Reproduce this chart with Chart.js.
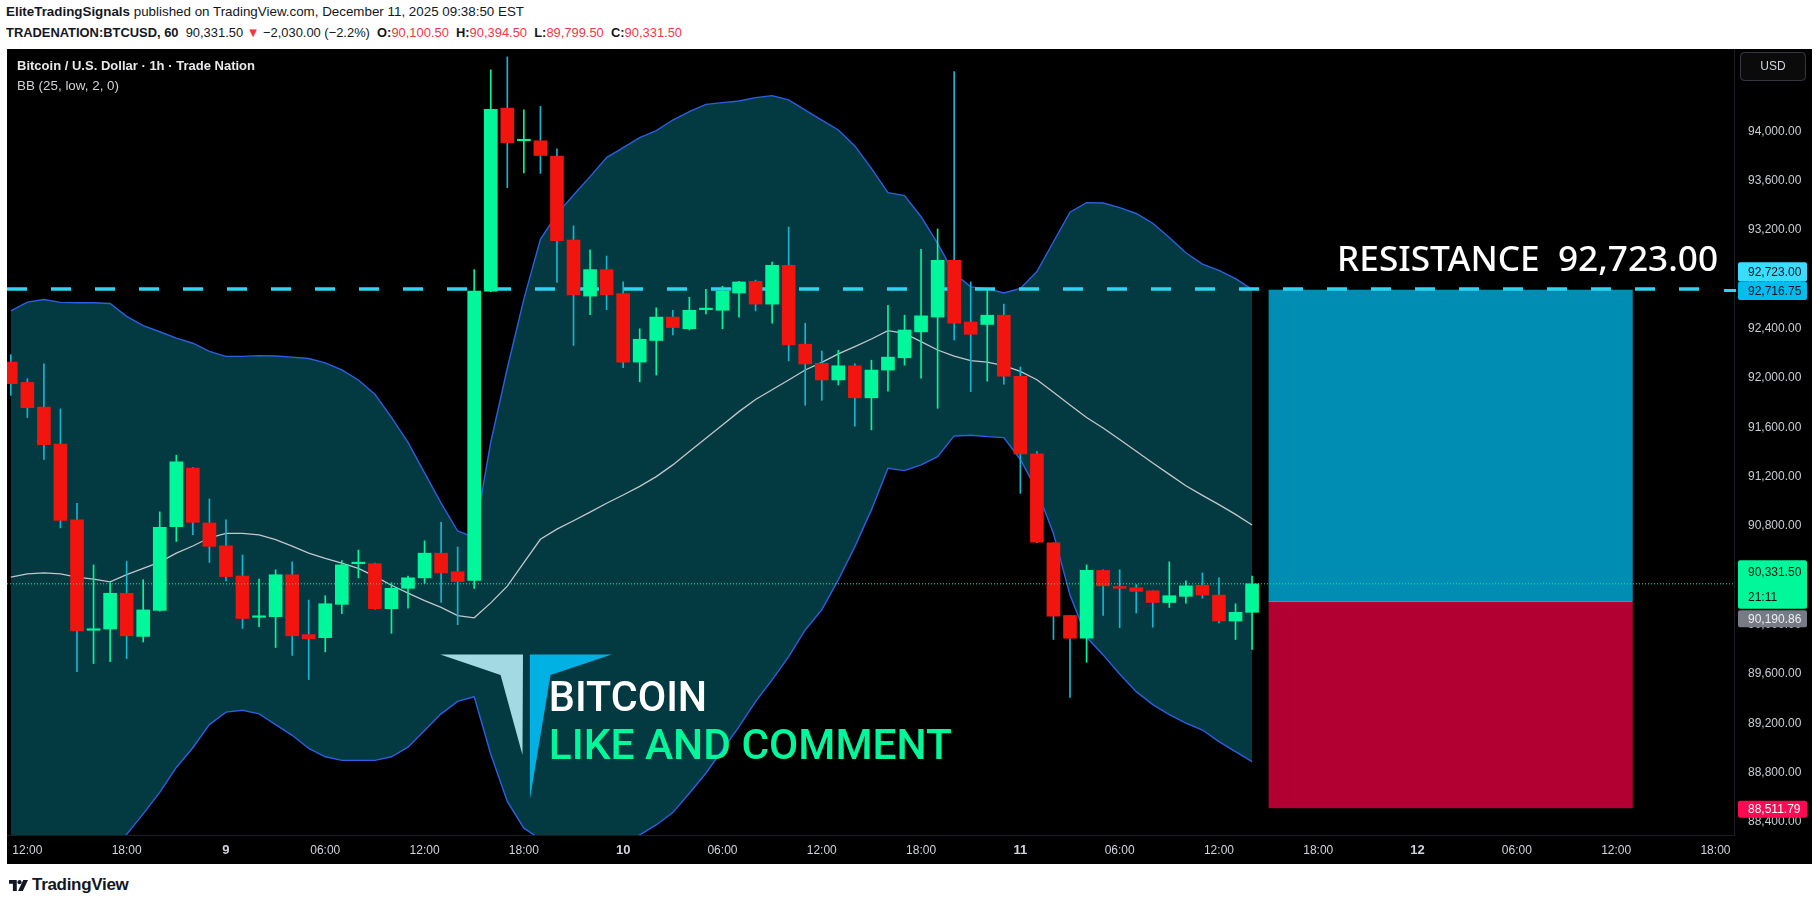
<!DOCTYPE html>
<html>
<head>
<meta charset="utf-8">
<script src="https://cdn.jsdelivr.net/npm/chart.js@4.4.1/dist/chart.umd.min.js"></script>
<style>
html,body{margin:0;padding:0;background:#fff;width:1819px;height:907px;overflow:hidden;font-family:'Liberation Sans',Arial,sans-serif;}
.hdr{position:absolute;left:6px;font-size:13px;color:#131722;white-space:nowrap;transform-origin:0 50%;line-height:16px;}
#h1{top:4px;}
#h2{top:25px;}
.r{color:#f23645;}
#panel{position:absolute;left:7px;top:49px;width:1805px;height:815px;background:#000;overflow:hidden;}
#c{position:absolute;left:0;top:0;}
.leg{position:absolute;left:10px;white-space:nowrap;transform-origin:0 50%;line-height:16px;}
#leg1{top:9px;color:#e9e9ec;font-size:12.5px;font-weight:bold;}
#leg2{top:29px;color:#d0d2d8;font-size:12.5px;}
#foot{position:absolute;left:9px;top:876px;height:18px;display:flex;align-items:center;}
#foot span{font-weight:bold;font-size:17px;color:#131722;margin-left:4px;letter-spacing:-0.3px;}
</style>
</head>
<body>
<div id="h1" class="hdr"><b>EliteTradingSignals</b> published on TradingView.com, December 11, 2025 09:38:50 EST</div>
<div id="h2" class="hdr"></div>
<div id="panel">
  <canvas id="c" width="1805" height="815"></canvas>
  <div id="leg1" class="leg">Bitcoin / U.S. Dollar · 1h · Trade Nation</div>
  <div id="leg2" class="leg">BB (25, low, 2, 0)</div>
</div>
<div id="foot">
  <svg width="19" height="13" viewBox="0 0 22 13"><path d="M0 0h9v13h-4.5v-8.5h-4.5z" fill="#131722"/><circle cx="12.2" cy="2.6" r="2.4" fill="#131722"/><path d="M16.5 0h5.5l-6 13h-5.5z" fill="#131722"/></svg>
  <span>TradingView</span>
</div>
<script>
// ---------- data (1h candles, starting 11:00 Dec 8) ----------
const opens = [
  92130,91965,91765,91465,90850,89955,89965,90255,89905,90115,
  90795,91270,90825,90640,90395,90060,90065,90405,89920,89895,
  90165,90495,90495,90130,90295,90380,90580,90430,90360,92705,
  94190,93925,93925,93800,93120,92665,92880,92685,92130,92305,
  92495,92400,92555,92550,92690,92785,92600,92915,92275,92120,
  91985,92100,91840,92065,92165,92375,92495,92955,92455,92435,
  92510,92015,91385,90665,90075,89890,90440,90310,90300,90275,
  90180,90230,90320,90240,90030,90100.5];
const highs = [
  92190,91995,92115,91750,90985,90485,90340,90515,90365,90915,
  91375,91275,91020,90850,90565,90370,90445,90510,90200,90235,
  90520,90605,90500,90340,90395,90680,90830,90630,92880,94500,
  94605,94175,94205,93860,93235,93040,92990,92780,92400,92570,
  92550,92655,92720,92745,92785,92795,92940,93225,92445,92220,
  92225,92115,92145,92590,92510,93045,93210,94485,92780,92715,
  92600,92090,91405,90665,90075,90485,90445,90445,90325,90275,
  90510,90355,90420,90380,90170,90394.5];
const lows = [
  91860,91680,91340,90785,89620,89685,89700,89725,89860,90110,
  90675,90730,90505,90355,89970,89985,89815,89750,89555,89780,
  90090,90380,90125,89930,90135,90335,90180,90000,90295,92700,
  93545,93665,93660,92775,92265,92515,92555,92085,91970,92025,
  92350,92390,92520,92400,92495,92545,92445,92140,91780,91820,
  91945,91610,91580,91895,92105,92000,91755,92310,91890,91975,
  91950,91065,90665,89880,89410,89695,90075,89975,90095,89980,
  90140,90175,90215,90015,89880,89799.5];
const closes = [
  91955,91760,91460,90845,89950,89965,90255,89910,90120,90790,
  91320,90830,90635,90390,90050,90065,90405,89910,89885,90170,
  90485,90505,90130,90295,90380,90580,90420,90350,92705,94180,
  93910,93930,93805,93115,92675,92880,92675,92130,92315,92495,
  92410,92550,92565,92705,92780,92600,92915,92270,92115,91985,
  92100,91840,92065,92170,92390,92505,92955,92445,92355,92510,
  92015,91385,90670,90070,89890,90440,90315,90295,90270,90180,
  90235,90315,90240,90030,90100,90331.5];
const bbUpper = [
  92545,92616,92637,92614,92611,92611,92605,92501,92425,92376,
  92324,92283,92217,92176,92176,92182,92179,92170,92159,92124,
  92066,91985,91869,91681,91478,91232,90986,90760,90710,91480,
  92080,92640,93125,93330,93485,93634,93788,93870,93950,94007,
  94093,94161,94220,94234,94247,94275,94291,94256,94174,94093,
  94012,93883,93701,93504,93480,93309,93093,92850,92740,92725,
  92690,92727,92864,93106,93345,93423,93420,93382,93335,93256,
  93140,93017,92925,92874,92806,92720];
const bbBasis = [
  90386,90412,90421,90412,90386,90369,90348,90406,90456,90508,
  90580,90638,90705,90740,90740,90728,90690,90638,90580,90537,
  90499,90456,90392,90320,90256,90195,90140,90073,90056,90177,
  90313,90504,90693,90775,90843,90913,90985,91052,91122,91201,
  91296,91404,91512,91620,91728,91827,91906,91985,92066,92128,
  92196,92255,92317,92385,92363,92296,92228,92179,92142,92130,
  92102,92055,91987,91885,91782,91680,91595,91502,91407,91311,
  91219,91127,91049,90974,90895,90808];
const bbLower = [
  88230,88210,88205,88210,88160,88130,88090,88300,88466,88640,
  88842,89002,89190,89291,89306,89277,89190,89103,88996,88929,
  88900,88900,88900,88929,89007,89141,89277,89378,89416,88950,
  88567,88350,88260,88225,88200,88190,88180,88230,88295,88376,
  88476,88633,88795,88984,89174,89376,89552,89741,89957,90120,
  90363,90633,90931,91269,91250,91296,91363,91531,91536,91525,
  91517,91340,91090,90740,90240,89900,89755,89600,89457,89352,
  89270,89201,89146,89052,88971,88890];
const timeTickHours  = [1,7,13,19,25,31,37,43,49,55,61,67,73,79,85,91,97,103];
const timeTickLabels = ['12:00','18:00','9','06:00','12:00','18:00','10','06:00','12:00','18:00','11','06:00','12:00','18:00','12','06:00','12:00','18:00'];
const dayLabels = ['9','10','11','12'];
const priceTicks = [88400,88800,89200,89600,90000,90400,90800,91200,91600,92000,92400,92800,93200,93600,94000];
const resistancePrice = 92723.00;
const positionTarget = 92716.75;
const positionEntry = 90190.86;
const positionStop = 88511.79;
const positionStartHour = 76;
const positionEndHour = 98;
const resistanceEndHour = 102.07;
const barCountdown = '21:11';
const dayChange = '−2,030.00 (−2.2%)';
const logoAnchor = {x: 25.95, y: 89758};

// ---------- view ----------
const X_MIN = -0.23, X_MAX = 104.12;
const Y_MIN = 88294.4, Y_MAX = 94669.1;

const GREEN = '#00f89b', RED = '#f2140f', WICK_DOWN = '#19b4d0';
const BAND_LINE = '#2b5fe4', BAND_FILL = '#033a41', BASIS = '#c3c6cc', RES = '#2dd5f1';

const fmt = v => v.toLocaleString('en-US', {minimumFractionDigits: 2, maximumFractionDigits: 2});
const last = closes.length - 1;

document.getElementById('h2').innerHTML =
  '<b>TRADENATION:BTCUSD, 60</b>&nbsp; ' + fmt(closes[last]) + ' <span class="r">▼</span> ' + dayChange +
  ' &nbsp;<b>O:</b><span class="r">' + fmt(opens[last]) + '</span> &nbsp;<b>H:</b><span class="r">' + fmt(highs[last]) +
  '</span> &nbsp;<b>L:</b><span class="r">' + fmt(lows[last]) + '</span> &nbsp;<b>C:</b><span class="r">' + fmt(closes[last]) + '</span>';

function fitWidth(id, w) {
  const el = document.getElementById(id);
  const cur = el.getBoundingClientRect().width;
  el.style.transform = 'scaleX(' + (w / cur) + ')';
}
fitWidth('h1', 518); fitWidth('h2', 676); fitWidth('leg1', 238); fitWidth('leg2', 102);

Chart.defaults.font.family = "'Liberation Sans', Arial, sans-serif";

const up = i => closes[i] >= opens[i];
const pts = arr => arr.map((v, i) => ({x: i, y: v}));

function fitText(ctx, text, left, baseline, width, font, color) {
  ctx.save();
  ctx.font = font;
  const w = ctx.measureText(text).width;
  ctx.translate(left, baseline);
  ctx.scale(width / w, 1);
  ctx.fillStyle = color;
  ctx.textAlign = 'left';
  ctx.textBaseline = 'alphabetic';
  ctx.fillText(text, 0, 0);
  ctx.restore();
}
function rr(ctx, x, y, w, h, r) {
  ctx.beginPath();
  ctx.moveTo(x + r, y); ctx.lineTo(x + w - r, y); ctx.quadraticCurveTo(x + w, y, x + w, y + r);
  ctx.lineTo(x + w, y + h - r); ctx.quadraticCurveTo(x + w, y + h, x + w - r, y + h);
  ctx.lineTo(x + r, y + h); ctx.quadraticCurveTo(x, y + h, x, y + h - r);
  ctx.lineTo(x, y + r); ctx.quadraticCurveTo(x, y, x + r, y); ctx.closePath();
}
function priceBox(ctx, left, top, bottom, bg, fg, lines) {
  ctx.fillStyle = bg;
  rr(ctx, left, top, 69, bottom - top, 2);
  ctx.fill();
  ctx.fillStyle = fg;
  ctx.font = '12px "Liberation Sans", Arial, sans-serif';
  ctx.textAlign = 'left';
  ctx.textBaseline = 'middle';
  const h = (bottom - top) / lines.length;
  lines.forEach((t, k) => ctx.fillText(t, left + 10, top + h * (k + 0.5) + 0.5));
}

const overlay = {
  id: 'overlay',
  beforeDatasetsDraw(chart) {
    const {ctx, scales: {x, y}} = chart;
    const x0 = x.getPixelForValue(positionStartHour), x1 = x.getPixelForValue(positionEndHour);
    const yT = y.getPixelForValue(positionTarget), yE = y.getPixelForValue(positionEntry), yS = y.getPixelForValue(positionStop);
    ctx.save();
    ctx.fillStyle = '#008db3';
    ctx.fillRect(x0, yT, x1 - x0, yE - yT);
    ctx.fillStyle = '#b10031';
    ctx.fillRect(x0, yE, x1 - x0, yS - yE);
    ctx.strokeStyle = 'rgba(200,190,200,0.55)';
    ctx.lineWidth = 1;
    ctx.beginPath(); ctx.moveTo(x0, Math.round(yE) + 0.5); ctx.lineTo(x1, Math.round(yE) + 0.5); ctx.stroke();
    ctx.restore();
  },
  afterDatasetsDraw(chart) {
    const {ctx, scales: {x, y}} = chart;
    ctx.save();
    // logo
    const ax = x.getPixelForValue(logoAnchor.x), ay = y.getPixelForValue(logoAnchor.y);
    ctx.fillStyle = '#a3d9e3';
    ctx.beginPath();
    ctx.moveTo(ax, ay); ctx.lineTo(ax + 82.7, ay); ctx.lineTo(ax + 82.2, ay + 100.5); ctx.lineTo(ax + 60.3, ay + 20.5);
    ctx.closePath(); ctx.fill();
    ctx.fillStyle = '#02b1e3';
    ctx.beginPath();
    ctx.moveTo(ax + 89.6, ay); ctx.lineTo(ax + 171.5, ay); ctx.lineTo(ax + 110.2, ay + 20.5); ctx.lineTo(ax + 89.6, ay + 144.8);
    ctx.closePath(); ctx.fill();
    fitText(ctx, 'BITCOIN', ax + 108.5, ay + 56.2, 158.4, '500 42px Roboto, sans-serif', '#ffffff');
    fitText(ctx, 'LIKE AND COMMENT', ax + 108.5, ay + 104.5, 403, '500 43px Roboto, sans-serif', '#00f89b');
    // resistance label
    const rx = x.getPixelForValue(resistanceEndHour), ry = y.getPixelForValue(resistancePrice);
    fitText(ctx, 'RESISTANCE  ' + fmt(resistancePrice), rx + 18 - 381, ry - 18, 381, '500 35px "Noto Sans", sans-serif', '#ffffff');
    ctx.restore();
  },
  afterDraw(chart) {
    const {ctx, chartArea, scales: {y}} = chart;
    const L = chartArea.right + 4;
    ctx.save();
    // small marker on the axis edge
    ctx.fillStyle = RES;
    ctx.fillRect(chartArea.right - 10, Math.round(y.getPixelForValue(positionTarget)) - 1, 12, 3);
    let yc = y.getPixelForValue(resistancePrice);
    priceBox(ctx, L, yc - 26.7, yc - 7.4, '#3adcff', '#0c0e14', [fmt(resistancePrice)]);
    yc = y.getPixelForValue(positionTarget);
    priceBox(ctx, L, yc - 8.2, yc + 10.2, '#00bdf0', '#0c0e14', [fmt(positionTarget)]);
    yc = y.getPixelForValue(closes[last]);
    priceBox(ctx, L, yc - 23.5, yc + 25, '#00f89b', '#0c0e14', [fmt(closes[last]), barCountdown]);
    yc = y.getPixelForValue(positionEntry);
    priceBox(ctx, L, yc + 9, yc + 26.2, '#787b86', '#eceef2', [fmt(positionEntry)]);
    yc = y.getPixelForValue(positionStop);
    priceBox(ctx, L, yc - 7.4, yc + 9.6, '#ff0a52', '#ffffff', [fmt(positionStop)]);
    // USD box
    ctx.fillStyle = '#0b0b0c';
    rr(ctx, L + 2, 3, 66, 29, 4);
    ctx.fill();
    ctx.strokeStyle = '#34373f';
    ctx.lineWidth = 1;
    rr(ctx, L + 2.5, 3.5, 65, 28, 4);
    ctx.stroke();
    ctx.fillStyle = '#d1d4dc';
    ctx.font = '12px "Liberation Sans", Arial, sans-serif';
    ctx.textAlign = 'center'; ctx.textBaseline = 'middle';
    ctx.fillText('USD', L + 35, 18);
    ctx.restore();
  }
};

new Chart(document.getElementById('c'), {
  type: 'bar',
  data: {
    datasets: [
      {type: 'line', data: pts(bbUpper), borderColor: BAND_LINE, borderWidth: 1.4, pointRadius: 0, tension: 0,
       fill: {target: '+2'}, backgroundColor: BAND_FILL, order: 10},
      {type: 'line', data: pts(bbBasis), borderColor: BASIS, borderWidth: 1.3, pointRadius: 0, tension: 0, fill: false, order: 8},
      {type: 'line', data: pts(bbLower), borderColor: BAND_LINE, borderWidth: 1.4, pointRadius: 0, tension: 0, fill: false, order: 9},
      {type: 'line', data: [{x: X_MIN, y: resistancePrice}, {x: resistanceEndHour, y: resistancePrice}],
       borderColor: RES, borderWidth: 3.6, borderDash: [20, 24], pointRadius: 0, fill: false, order: 7},
      {type: 'bar', data: opens.map((o, i) => ({x: i, y: [lows[i], highs[i]]})), barThickness: 1, grouped: false,
       backgroundColor: c => up(c.dataIndex) ? GREEN : WICK_DOWN, order: 6},
      {type: 'bar', data: opens.map((o, i) => ({x: i, y: [o, closes[i]]})), barThickness: 13, grouped: false, minBarLength: 1.5,
       backgroundColor: c => up(c.dataIndex) ? GREEN : RED, order: 5},
      {type: 'line', data: [{x: X_MIN, y: closes[last]}, {x: X_MAX, y: closes[last]}],
       borderColor: GREEN, borderWidth: 1, borderDash: [1, 2], pointRadius: 0, fill: false, order: 1}
    ]
  },
  options: {
    responsive: false, animation: false, devicePixelRatio: 1,
    layout: {padding: 0},
    plugins: {legend: {display: false}, tooltip: {enabled: false}},
    scales: {
      x: {
        type: 'linear', position: 'bottom', min: X_MIN, max: X_MAX, offset: false,
        grid: {display: false, drawTicks: false},
        border: {display: true, color: '#1b1e25'},
        afterBuildTicks: s => { s.ticks = timeTickHours.map(v => ({value: v})); },
        afterFit: s => { s.height = 29; s.paddingLeft = 0; s.paddingRight = 0; },
        ticks: {
          autoSkip: false, maxRotation: 0, minRotation: 0, padding: 8, color: '#d1d4dc',
          callback: (v, i) => timeTickLabels[i],
          font: c => ({size: dayLabels.includes(timeTickLabels[c.index]) ? 13 : 12,
                       weight: dayLabels.includes(timeTickLabels[c.index]) ? 'bold' : 'normal'})
        }
      },
      y: {
        type: 'linear', position: 'right', min: Y_MIN, max: Y_MAX,
        grid: {display: false, drawTicks: false},
        border: {display: true, color: '#1b1e25'},
        afterBuildTicks: s => { s.ticks = priceTicks.map(v => ({value: v})); },
        afterFit: s => { s.width = 78; s.paddingTop = 0; s.paddingBottom = 0; },
        ticks: {padding: 14, color: '#c9ccd4', font: {size: 12}, callback: v => fmt(v)}
      }
    }
  },
  plugins: [overlay]
});
</script>
</body>
</html>
